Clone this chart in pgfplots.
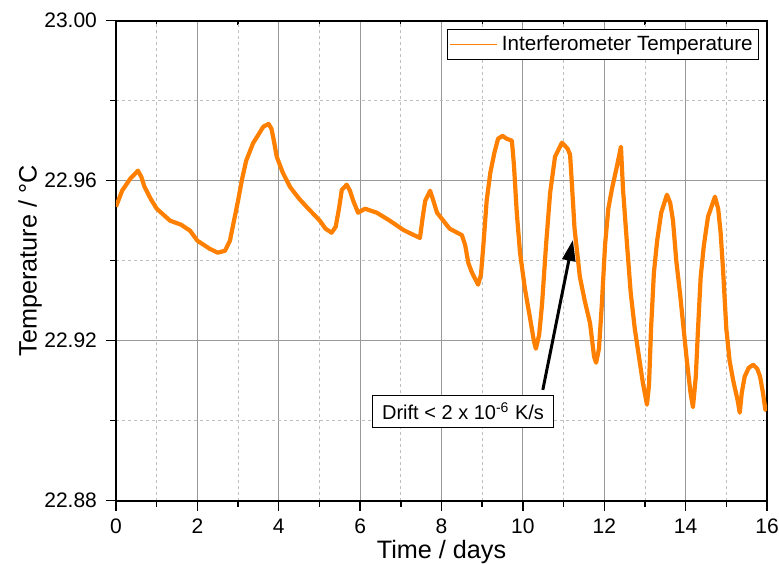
\documentclass[border=0pt]{standalone}
\usepackage{fontspec}
\setmainfont{Liberation Sans}
\usepackage{pgfplots}
\pgfplotsset{compat=1.18}
\usetikzlibrary{arrows.meta}
\definecolor{tempor}{HTML}{FF8000}

\pgfplotstableread{
t T
0.00 22.9535
0.15 22.9575
0.35 22.9605
0.54 22.9625
0.62 22.9610
0.70 22.9585
0.85 22.9555
1.00 22.9530
1.33 22.9500
1.60 22.9490
1.82 22.9475
2.00 22.9450
2.30 22.9430
2.50 22.9420
2.68 22.9425
2.80 22.9450
2.90 22.9500
3.00 22.9550
3.10 22.9605
3.20 22.9650
3.37 22.9694
3.50 22.9715
3.62 22.9735
3.75 22.9742
3.82 22.9730
3.88 22.9700
3.95 22.9660
4.10 22.9620
4.28 22.9584
4.50 22.9555
4.69 22.9534
5.01 22.9500
5.15 22.9480
5.30 22.9470
5.40 22.9485
5.48 22.9530
5.55 22.9577
5.67 22.9590
5.75 22.9575
5.83 22.9550
5.95 22.9520
6.12 22.9530
6.41 22.9520
6.73 22.9500
7.06 22.9477
7.30 22.9465
7.47 22.9457
7.54 22.9510
7.60 22.9550
7.72 22.9575
7.80 22.9550
7.89 22.9520
8.20 22.9480
8.50 22.9464
8.58 22.9440
8.66 22.9394
8.75 22.9370
8.90 22.9340
8.97 22.9365
9.03 22.9440
9.11 22.9550
9.20 22.9620
9.30 22.9670
9.39 22.9705
9.50 22.9712
9.60 22.9705
9.73 22.9700
9.78 22.9640
9.85 22.9520
9.93 22.9420
10.05 22.9330
10.17 22.9260
10.27 22.9200
10.32 22.9180
10.40 22.9215
10.47 22.9290
10.57 22.9440
10.67 22.9570
10.79 22.9660
10.96 22.9695
11.10 22.9680
11.16 22.9665
11.20 22.9600
11.27 22.9480
11.40 22.9360
11.52 22.9300
11.65 22.9244
11.75 22.9160
11.80 22.9145
11.87 22.9180
11.94 22.9290
12.02 22.9440
12.10 22.9530
12.19 22.9580
12.32 22.9640
12.41 22.9685
12.46 22.9580
12.56 22.9440
12.65 22.9320
12.75 22.9230
12.95 22.9094
13.05 22.9040
13.10 22.9090
13.15 22.9230
13.22 22.9370
13.30 22.9450
13.40 22.9520
13.54 22.9565
13.62 22.9545
13.69 22.9500
13.77 22.9400
13.86 22.9320
13.95 22.9230
14.03 22.9150
14.12 22.9070
14.18 22.9034
14.25 22.9110
14.30 22.9220
14.37 22.9360
14.45 22.9440
14.55 22.9510
14.72 22.9560
14.80 22.9530
14.86 22.9470
14.92 22.9377
15.00 22.9230
15.08 22.9150
15.17 22.9100
15.28 22.9050
15.33 22.9020
15.38 22.9070
15.45 22.9110
15.55 22.9132
15.66 22.9140
15.76 22.9130
15.83 22.9110
15.90 22.9070
15.96 22.9027
16.00 22.9040
}\temptable

\begin{document}
\begin{tikzpicture}
\useasboundingbox (-58pt,-31.15pt) rectangle (331.5pt,250.35pt);
% top/right short inner ticks
\begin{axis}[
  at={(0,0)}, anchor=south west, scale only axis,
  width=325.5pt, height=240pt,
  xmin=0, xmax=16, ymin=22.88, ymax=23.00,
  xtick={0,2,...,16}, minor xtick={1,3,...,15},
  ytick={22.88,22.92,22.96,23.00}, minor ytick={22.90,22.94,22.98},
  xticklabels={}, yticklabels={},
  xtick pos=right, ytick pos=right, tick align=inside,
  major tick length=3pt, minor tick length=2pt,
  tick style={black, line width=0.6pt},
  axis line style={black, line width=1pt},
]
\end{axis}
\begin{axis}[
  at={(0,0)}, anchor=south west, scale only axis,
  width=325.5pt, height=240pt,
  xmin=0, xmax=16, ymin=22.88, ymax=23.00,
  xtick={0,2,...,16}, minor xtick={1,3,...,15},
  ytick={22.88,22.92,22.96,23.00}, minor ytick={22.90,22.94,22.98},
  scaled y ticks=false,
  yticklabel style={/pgf/number format/fixed, /pgf/number format/fixed zerofill,
    /pgf/number format/precision=2},
  /pgf/number format/assume math mode=true,
  tick label style={font=\fontsize{10.5pt}{12pt}\selectfont},
  xticklabel style={yshift=-0.5pt},
  yticklabel style={xshift=-1pt},
  xtick pos=left, ytick pos=left, tick align=outside,
  major tick length=5pt, minor tick length=3pt,
  tick style={black, line width=0.7pt},
  axis line style={black, line width=1.1pt},
  grid=both,
  major grid style={black!40, line width=0.5pt},
  minor grid style={black!25, line width=0.4pt, dash pattern=on 1.5pt off 1.5pt},
  xlabel={Time / days},
  ylabel={Temperature / °C},
  label style={font=\fontsize{12.6pt}{14pt}\selectfont},
  xlabel style={at={(axis description cs:0.5,-0.106)}, anchor=center},
  ylabel style={at={(axis description cs:-0.1321,0.5)}, anchor=center},
  legend style={at={(rel axis cs:0.988,0.983)}, anchor=north east,
    draw=black, line width=0.5pt, inner sep=1pt,
    font=\fontsize{10.3pt}{12pt}\selectfont, cells={anchor=west}},
  legend image code/.code={\draw[tempor, line width=0.5pt] (0pt,0pt) -- (23.5pt,0pt);},
  clip=true,
]
\addplot[tempor, line width=2.1pt, line join=round] table[x=t, y=T] {\temptable};
\addlegendentry{Interferometer Temperature}
\draw[black, line width=1.5pt, -{Triangle[length=10.5pt, width=6.5pt]}]
  (axis cs:10.49,22.9077) -- (axis cs:11.23,22.9452);
\node[draw=black, fill=white, line width=0.5pt, inner xsep=5pt, inner ysep=3.5pt,
  font=\fontsize{10pt}{12pt}\selectfont]
  at (axis cs:8.53,22.9023) {Drift < 2 x 10\textsuperscript{-6} K/s};
\end{axis}
\end{tikzpicture}
\end{document}
